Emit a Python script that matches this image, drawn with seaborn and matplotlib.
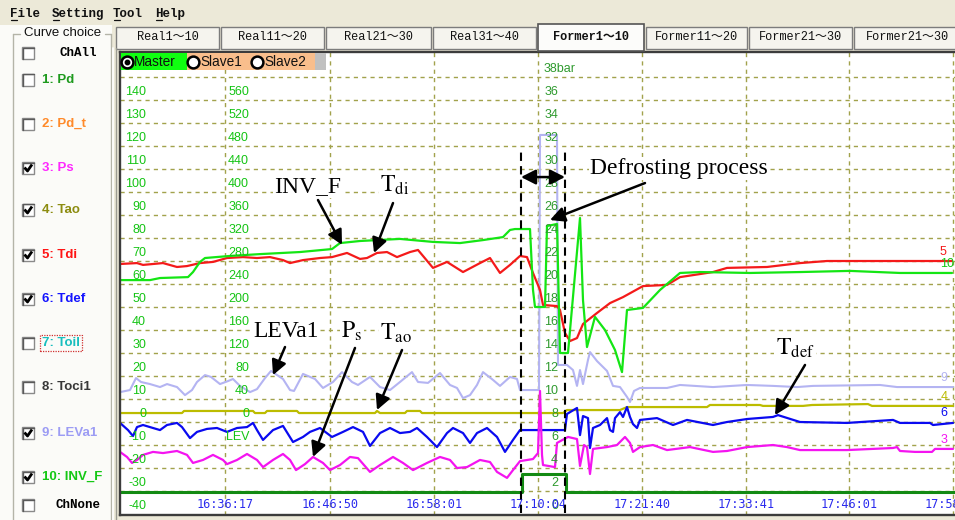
import matplotlib
matplotlib.use("Agg")
import matplotlib.pyplot as plt
from matplotlib.patches import Rectangle
from matplotlib.lines import Line2D
import seaborn as sns

# ---------------- recorded curves (sample index, value on the left scale) ----------------
time_tick_idx = [107, 212, 316, 420, 524, 628, 731, 835]
time_tick_labels = ["16:36:17", "16:46:50", "16:58:01", "17:10:04",
                    "17:21:40", "17:33:41", "17:46:01", "17:58:21"]

inv_f_idx = [2, 32, 42, 70, 75, 82, 87, 112, 142, 182, 214, 222, 242, 282, 315, 342, 365, 385,
             392, 397, 412, 415, 417, 427, 429, 439, 442, 450, 462, 465, 469, 477, 487, 497,
             504, 509, 525, 542, 562, 582, 632, 682, 732, 782, 834]
inv_f_val = [61.7, 61.7, 62.6, 63.0, 65.2, 69.6, 71.3, 72.2, 73.0, 73.9, 75.2, 77.8, 78.7, 79.6,
             78.3, 77.8, 79.1, 80.4, 83.5, 83.9, 83.9, 57.4, 50.0, 50.0, 85.2, 86.1, 30.0, 30.0,
             88.7, 53.0, 32.6, 45.7, 40.0, 31.3, 21.7, 48.7, 49.6, 57.4, 64.8, 65.2, 64.8, 65.2,
             65.7, 64.8, 64.8]

tdi_idx = [2, 19, 25, 45, 59, 69, 82, 95, 109, 125, 139, 152, 165, 172, 185, 202, 214, 229, 242,
           249, 259, 269, 279, 292, 300, 315, 329, 345, 362, 372, 382, 392, 402, 409, 415, 422,
           425, 439, 442, 447, 452, 459, 465, 479, 492, 505, 525, 549, 562, 595, 609, 649, 682,
           709, 834]
tdi_val = [68.7, 69.1, 68.3, 69.1, 67.4, 67.8, 69.1, 69.6, 71.3, 71.7, 71.3, 71.7, 70.4, 69.1,
           70.4, 71.3, 71.7, 73.5, 70.9, 71.3, 73.5, 73.9, 71.7, 73.9, 74.8, 67.0, 69.6, 65.2,
           69.1, 71.3, 64.8, 68.3, 72.2, 71.7, 64.8, 57.4, 50.9, 50.4, 48.7, 38.7, 35.2, 36.5,
           42.6, 47.4, 51.7, 54.3, 59.1, 59.6, 63.0, 65.2, 67.0, 67.4, 69.1, 70.0, 70.0]

leva1_idx = [2, 12, 18, 23, 32, 42, 49, 59, 67, 74, 79, 87, 93, 102, 110, 115, 122, 132, 139, 147,
             153, 165, 172, 176, 185, 197, 205, 215, 224, 234, 240, 252, 262, 272, 282, 294, 300,
             310, 322, 332, 339, 345, 352, 359, 365, 375, 382, 392, 399, 402, 421, 422, 439, 440,
             449, 455, 459, 462, 465, 470, 472, 479, 489, 495, 502, 509, 512, 516, 522, 549, 562,
             595, 629, 655, 679, 695, 762, 779, 835]
leva1_val = [13.0, 13.9, 19.1, 17.4, 16.5, 15.2, 16.5, 15.2, 11.7, 13.9, 17.4, 20.4, 19.6, 16.5,
             17.8, 18.7, 15.7, 13.0, 14.3, 19.1, 22.2, 18.7, 13.9, 13.5, 20.9, 18.7, 14.8, 17.4,
             21.7, 17.4, 16.1, 19.6, 15.2, 13.9, 17.4, 21.7, 17.4, 17.0, 21.3, 16.1, 14.8, 10.4,
             11.7, 16.1, 21.7, 18.3, 15.7, 19.6, 18.7, 13.9, 13.9, 124.8, 124.8, 24.8, 24.8, 22.6,
             15.7, 22.6, 16.5, 27.0, 30.4, 26.5, 22.2, 15.7, 15.2, 10.9, 8.7, 13.5, 14.8, 14.8,
             16.1, 15.2, 16.1, 15.7, 15.2, 15.7, 16.1, 15.2, 15.2]

tao_idx = [2, 64, 66, 135, 137, 147, 149, 179, 181, 257, 259, 262, 287, 289, 302, 304, 445, 449,
           502, 509, 589, 592, 642, 645, 685, 694, 750, 754, 835]
tao_val = [3.9, 3.9, 4.8, 4.8, 3.9, 3.9, 4.8, 4.8, 3.9, 3.9, 4.8, 3.9, 3.9, 4.8, 4.8, 3.9, 3.9,
           5.2, 5.2, 6.5, 6.5, 7.4, 7.4, 7.0, 7.0, 7.4, 7.8, 7.0, 7.0]

tdef_idx = [2, 10, 15, 19, 25, 35, 42, 49, 59, 64, 72, 79, 89, 99, 109, 119, 129, 135, 139, 145,
            155, 165, 175, 185, 192, 202, 214, 225, 235, 245, 252, 262, 272, 282, 292, 299, 309,
            319, 329, 335, 345, 352, 359, 369, 379, 387, 395, 402, 447, 449, 459, 462, 465, 470,
            472, 475, 482, 489, 492, 495, 497, 502, 505, 509, 512, 515, 519, 522, 539, 555, 569,
            595, 609, 629, 655, 660, 682, 729, 775, 782, 812, 815, 835]
tdef_val = [-0.4, -3.5, -6.1, -2.2, -1.3, -2.6, -3.5, -1.3, -0.4, -2.2, -7.0, -4.3, -3.0, -2.6,
            -4.3, -2.6, -2.2, -0.4, -3.5, -7.8, -3.5, -1.7, -8.7, -6.5, -4.3, -2.6, -6.5, -4.3,
            -2.2, -4.3, -10.4, -4.8, -2.6, -4.8, -4.3, -2.6, -6.5, -10.9, -4.8, -2.6, -4.8, -9.1,
            -4.8, -2.6, -6.5, -13.0, -7.8, -3.5, -3.5, 3.5, 6.1, -5.7, 2.6, 1.7, -11.3, -2.6,
            -1.3, 1.7, -3.5, -4.3, 1.7, 4.3, 2.2, 6.5, 2.2, -0.9, -2.6, 0.9, 1.7, -1.3, 0.9,
            -1.3, 0.0, 1.3, 2.2, 3.0, 0.0, -0.4, 0.9, -0.4, -0.4, -1.3, -0.4]

ps_idx = [2, 9, 14, 19, 25, 35, 45, 59, 69, 75, 85, 95, 105, 109, 119, 129, 139, 145, 155, 165,
          172, 178, 187, 195, 205, 212, 222, 232, 240, 252, 262, 275, 285, 295, 309, 322, 332,
          339, 349, 362, 372, 379, 389, 395, 402, 415, 420, 422, 424, 425, 437, 439, 450, 459,
          462, 466, 469, 472, 475, 489, 499, 507, 512, 515, 522, 535, 549, 572, 595, 609, 629,
          655, 669, 682, 729, 775, 779, 782, 797, 814, 817, 835]
ps_val = [-13.0, -15.2, -17.8, -16.5, -14.3, -13.0, -13.5, -12.6, -14.3, -17.8, -16.5, -14.3,
          -16.5, -18.3, -16.5, -13.9, -16.5, -19.6, -16.5, -13.9, -16.5, -20.9, -18.3, -15.2,
          -17.8, -20.9, -18.7, -15.2, -15.7, -21.7, -18.7, -15.2, -17.8, -20.9, -17.8, -15.2,
          -16.5, -20.0, -19.6, -16.5, -17.4, -21.7, -24.3, -20.9, -17.0, -16.1, -13.5, 13.5,
          -14.3, -18.7, -19.6, -9.1, -6.5, -7.4, -19.1, -10.0, -10.9, -22.6, -11.7, -10.9,
          -10.0, -6.5, -9.1, -13.0, -10.9, -10.0, -12.2, -10.9, -13.0, -12.6, -10.9, -10.0,
          -10.9, -12.2, -12.2, -11.3, -10.9, -12.6, -13.0, -13.0, -11.7, -11.7]

defrost_idx = [2, 404, 448, 837]
defrost_val = [-30.3, -22.6, -30.3, -30.3]

# scale labels written inside the plot
scale1_vals = [140, 130, 120, 110, 100, 90, 80, 70, 60, 50, 40, 30, 20, 10, 0, -10, -20, -30, -40]
scale2_labels = ["560", "520", "480", "440", "400", "360", "320", "280", "240", "200",
                 "160", "120", "80", "40", "0", "LEV"]
scale3_labels = ["36", "34", "32", "30", "28", "26", "24", "22", "20", "18", "16", "14",
                 "12", "10", "8", "6", "4", "2", "0"]

channels = ["ChAll", "1: Pd", "2: Pd_t", "3: Ps", "4: Tao", "5: Tdi", "6: Tdef", "7: Toil",
            "8: Toci1", "9: LEVa1", "10: INV_F", "ChNone"]
channel_checked = [False, False, False, True, True, True, True, False, False, True, True, False]
channel_colors = ["#000000", "#1E9A1E", "#FF8A2A", "#FF28FF", "#8C8C10", "#FF1414", "#1414FF",
                  "#18BEBE", "#383838", "#9C9CF4", "#14C814", "#000000"]
channel_y = [53, 80, 124, 168, 210, 255, 299, 343, 387, 433, 477, 505]

tabs = ["Real1～10", "Real11～20", "Real21～30", "Real31～40", "Former1～10",
        "Former11～20", "Former21～30", "Former21～30"]
tab_edges = [115, 220, 325, 432, 537, 645, 748, 853, 962]
menu_items = ["File", "Setting", "Tool", "Help"]
menu_x = [10, 52, 113, 155]

# ---------------- figure and helpers ----------------
sns.set_theme(style="white")
plt.rcParams["font.family"] = ["Liberation Sans", "Noto Sans CJK JP"]
plt.rcParams["mathtext.fontset"] = "stix"

W, H = 955, 520
fig = plt.figure(figsize=(W / 100, H / 100), dpi=100)
fig.patch.set_facecolor("#ECE9D8")


def fx(px):
    return px / W


def fy(py):
    return 1.0 - py / H


def frect(x0, y0, x1, y1, **kw):
    r = Rectangle((fx(x0), fy(y1)), (x1 - x0) / W, (y1 - y0) / H,
                  transform=fig.transFigure, **kw)
    fig.add_artist(r)
    return r


def fline(xs, ys, **kw):
    fig.add_artist(Line2D([fx(x) for x in xs], [fy(y) for y in ys],
                          transform=fig.transFigure, **kw))


def ftext(px, py, s, **kw):
    return fig.text(fx(px), fy(py), s, **kw)


MONO = ["Liberation Mono", "Noto Sans CJK JP"]

# menu bar
frect(0, 0, W, 25, fc="#ECE9D8", ec="none")
for label, x0 in zip(menu_items, menu_x):
    ftext(x0, 14, label, ha="left", va="center", fontsize=9, family=MONO,
          fontweight="bold", color="#111111")
    fline([x0 + 1, x0 + 7], [20, 20], color="#111111", lw=0.9)

# left panel with channel check boxes
frect(0, 25, 112, H, fc="#FBFBF8", ec="none")
fline([13, 13], [34, H], color="#B4B4A8", lw=1.0)
fline([13, 20], [34, 34], color="#B4B4A8", lw=1.0)
fline([105, 111], [34, 34], color="#B4B4A8", lw=1.0)
fline([111, 111], [34, H], color="#B4B4A8", lw=1.0)
ftext(63, 33, "Curve choice", ha="center", va="center", fontsize=9.5, color="#111111")

for label, checked, col, py in zip(channels, channel_checked, channel_colors, channel_y):
    frect(22, py - 6, 34, py + 6, fc="white", ec="#8A8A8A", lw=1.0)
    fline([22.5, 22.5, 33.5], [py + 5.5, py - 5.5, py - 5.5], color="#5A5A5A", lw=1.0)
    if checked:
        fline([24.5, 27.5, 32], [py - 0.5, py + 3, py - 3.5], color="black", lw=2.0,
              solid_capstyle="butt")
    if label.startswith("Ch"):
        ftext(78, py, label, ha="center", va="center", fontsize=9, family=MONO,
              fontweight="bold", color=col)
    else:
        t = ftext(42, py, label, ha="left", va="center", fontsize=9.5,
                  fontweight="bold", color=col)
        if label == "7: Toil":
            t.set_bbox(dict(facecolor="none", edgecolor="#D03030", linestyle=(0, (1, 1)),
                            lw=0.9, pad=1.5))

# tab strip
for i, label in enumerate(tabs):
    x0, x1 = tab_edges[i], tab_edges[i + 1]
    sel = label == "Former1～10" and i == 4
    if sel:
        frect(x0 + 1, 24, x1 - 1, 51, fc="#FCFCFA", ec="#555555", lw=1.2, zorder=5)
    else:
        frect(x0 + 1, 27, x1 - 1, 49, fc="#F5F4EE", ec="#7C7C7C", lw=1.0)
    ftext((x0 + x1) / 2, 37 if not sel else 36.5, label, ha="center", va="center",
          fontsize=8.6, family=MONO, fontweight="bold" if sel else "normal",
          color="#111111", zorder=6)

fline([113, 113], [48, H], color="#FFFFFF", lw=1.2)
fline([116, 116], [48, H], color="#9A9A90", lw=1.0)

# ---------------- plot area ----------------
ax = fig.add_axes([fx(120), fy(515), (W - 120) / W, (515 - 52) / H])
ax.set_facecolor("white")
ax.set_xlim(2, 837)
ax.set_ylim(-40.43, 160.87)
ax.set_xticks(time_tick_idx)
ax.set_yticks(list(range(-30, 151, 10)))
ax.tick_params(length=0, labelbottom=False, labelleft=False)
ax.grid(True, color="#A2A24C", linestyle=(0, (3, 3)), linewidth=1.0)
ax.set_axisbelow(True)
for side in ["left", "top", "bottom"]:
    ax.spines[side].set_color("#3C3C3C")
    ax.spines[side].set_linewidth(1.7)
ax.spines["right"].set_visible(False)

line_kw = dict(ax=ax, estimator=None, sort=False, legend=False)
sns.lineplot(x=leva1_idx, y=leva1_val, color="#B4B4F2", linewidth=1.5, **line_kw)
sns.lineplot(x=tao_idx, y=tao_val, color="#BCBC00", linewidth=1.6, **line_kw)
sns.lineplot(x=tdef_idx, y=tdef_val, color="#0A0AF0", linewidth=1.6, **line_kw)
sns.lineplot(x=ps_idx, y=ps_val, color="#F414F0", linewidth=1.6, **line_kw)
sns.lineplot(x=defrost_idx, y=defrost_val, color="#138A13", linewidth=2.2,
             drawstyle="steps-post", **line_kw)
sns.lineplot(x=tdi_idx, y=tdi_val, color="#F41A1A", linewidth=1.6, **line_kw)
sns.lineplot(x=inv_f_idx, y=inv_f_val, color="#14E614", linewidth=1.6, **line_kw)

# scale labels inside the plot
for v in scale1_vals:
    ax.text(28, v + 1.0, str(v), ha="right", va="bottom", fontsize=9, color="#14C414")
for lab, v in zip(scale2_labels, scale1_vals):
    ax.text(131, v + 1.0, lab, ha="right", va="bottom", fontsize=9, color="#14C414")
ax.text(426, 151.0, "38bar", ha="left", va="bottom", fontsize=9, color="#2E9A2E")
for lab, v in zip(scale3_labels, scale1_vals):
    ax.text(440, v + 1.0, lab, ha="right", va="bottom", fontsize=9, color="#2E9A2E")

# time stamps
for t, lab in zip(time_tick_idx, time_tick_labels):
    ax.text(t, -35.7, lab, ha="center", va="center", fontsize=8.6,
            family="DejaVu Sans Mono", color="#2A2AEE")

# channel numbers at the right end of each curve
end_labels = [("5", 825, 73.9, "#F41A1A"), ("10", 829, 68.7, "#14C814"),
              ("9", 826, 19.1, "#B4B4F2"), ("4", 826, 10.9, "#BCBC00"),
              ("6", 826, 3.9, "#0A0AF0"), ("3", 826, -7.8, "#F414F0")]
for lab, x, y, c in end_labels:
    ax.text(x, y, lab, ha="center", va="center", fontsize=9, color=c)

# defrost window markers
ax.vlines([defrost_idx[1] - 1, defrost_idx[2] - 1], -39.6, 118.3, colors="black",
          linestyles=(0, (4, 2.5)), linewidth=1.5, zorder=6)
arrow_kw = dict(arrowstyle="-|>,head_length=0.55,head_width=0.28", color="black",
                lw=1.8, mutation_scale=16, shrinkA=0, shrinkB=0)
ax.annotate("", xy=(defrost_idx[2] - 1, 106.5), xytext=(defrost_idx[1] - 1, 106.5),
            arrowprops=dict(arrow_kw, arrowstyle="<|-|>,head_length=0.55,head_width=0.28"),
            zorder=7)

# curve callouts
box = dict(facecolor="white", edgecolor="none", pad=1.0)
serif = "Liberation Serif"
callouts = [
    ("Defrosting process", (561, 107.8), (527, 103.9), (432, 87.8)),
    ("INV_F", (190, 100.0), (200, 96.5), (224, 77.0)),
    (r"$\mathrm{T}_{\mathrm{di}}$", (277, 100.0), (275, 95.2), (256, 73.5)),
    ("LEVa1", (168, 37.0), (167, 32.6), (155, 20.4)),
    (r"$\mathrm{P}_{\mathrm{s}}$", (234, 36.5), (237, 32.2), (195, -15.2)),
    (r"$\mathrm{T}_{\mathrm{ao}}$", (278, 35.7), (284, 31.3), (259, 5.2)),
    (r"$\mathrm{T}_{\mathrm{def}}$", (677, 29.1), (687, 24.8), (657, 3.0)),
]
for text, pos, tail, head in callouts:
    ax.text(pos[0], pos[1], text, ha="center", va="baseline", fontsize=17,
            family=serif, color="black", bbox=box, zorder=8)
    ax.annotate("", xy=head, xytext=tail, arrowprops=arrow_kw, zorder=8)

# master / slave selector
frect(121, 53, 187, 70, fc="#10FF10", ec="none", zorder=4)
frect(187, 53, 315, 70, fc="#F9BE8C", ec="none", zorder=4)
frect(315, 53, 326, 70, fc="#C0C0C0", ec="none", zorder=4)
for cx, lab in zip([127, 193, 257], ["Master", "Slave1", "Slave2"]):
    fline([cx], [62], marker="o", ms=8.5, mfc="white", mec="black", mew=1.8, ls="none",
          zorder=5)
    ftext(cx + 7, 62, lab, ha="left", va="center", fontsize=9.8, color="#111111", zorder=5)
fline([127], [62], marker="o", ms=3.2, mfc="black", mec="black", ls="none", zorder=6)

fig.savefig("out.png", dpi=100, facecolor=fig.get_facecolor())
